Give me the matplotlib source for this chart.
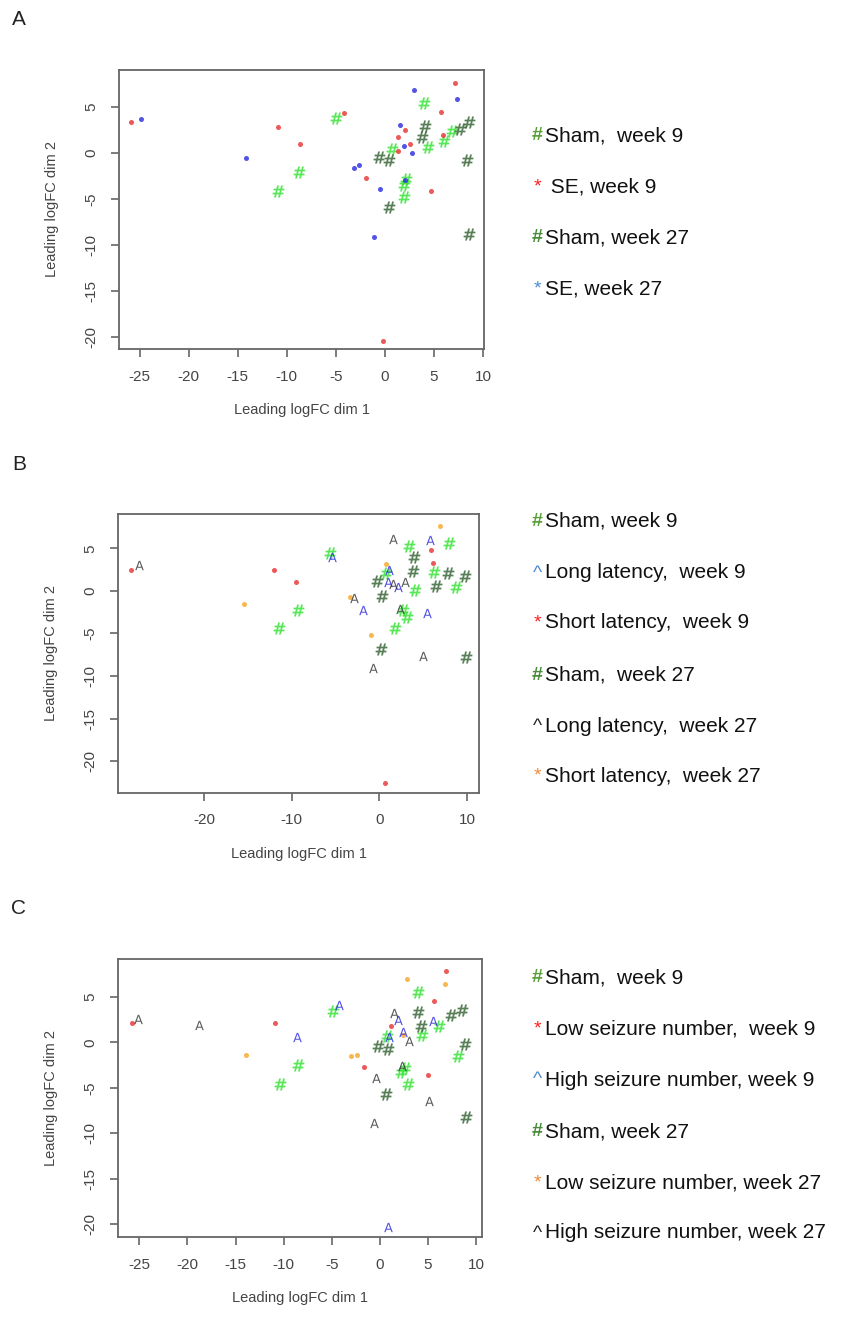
import matplotlib.pyplot as plt

plt.rcParams['font.family'] = ['Liberation Sans', 'DejaVu Sans']
plt.rcParams['axes.unicode_minus'] = False

# ---- panel A: SE vs sham ----
a_sham9_x = [-10.9, -8.8, -5.0, 0.7, 1.9, 1.9, 2.1, 4.0, 4.4, 6.0, 6.8]
a_sham9_y = [-4.1, -2.1, 3.8, 0.4, -3.5, -4.8, -2.8, 5.4, 0.6, 1.3, 2.4]
a_se9_x = [-25.9, -10.9, -8.7, -4.2, -1.9, -0.2, 1.3, 2.0, 1.3, 2.6, 4.7, 5.7, 5.9, 7.1]
a_se9_y = [3.4, 2.8, 1.0, 4.3, -2.7, -20.4, 1.7, 2.5, 0.2, 1.0, -4.1, 4.4, 1.9, 7.6]
a_sham27_x = [-0.6, 0.4, 0.4, 3.8, 4.1, 7.6, 8.6, 8.4, 8.6]
a_sham27_y = [-0.5, -0.8, -5.9, 1.7, 2.9, 2.6, 3.3, -0.8, -8.8]
a_se27_x = [-24.9, -14.2, -3.2, -2.6, -0.5, -1.1, 1.5, 1.9, 2.0, 2.8, 3.0, 7.3]
a_se27_y = [3.7, -0.6, -1.6, -1.3, -3.9, -9.1, 3.0, 0.7, -2.9, 0.0, 6.8, 5.8]

# ---- panel B: latency groups ----
b_sham9_x = [-5.6, -9.3, -11.4, 3.4, 8.0, 6.2, 4.1, 8.8, 0.8, 2.7, 3.1, 1.8]
b_sham9_y = [4.5, -2.2, -4.3, 5.3, 5.6, 2.2, 0.1, 0.5, 2.1, -2.2, -3.1, -4.3]
b_long9_x = [-5.4, 5.8, 1.1, 1.0, 2.1, -1.9, 5.4]
b_long9_y = [4.0, 6.0, 2.4, 1.0, 0.4, -2.3, -2.6]
b_short9_x = [-28.3, -12.0, -9.5, 0.7, 5.9, 6.1]
b_short9_y = [2.5, 2.5, 1.0, -22.6, 4.8, 3.3]
b_sham27_x = [3.9, 3.8, -0.3, 0.3, 0.2, 6.5, 7.8, 9.8, 9.9]
b_sham27_y = [4.0, 2.3, 1.2, -0.6, -6.8, 0.6, 2.1, 1.7, -7.8]
b_long27_x = [-27.4, 1.6, 1.5, 2.9, -2.9, 2.3, 5.0, -0.7]
b_long27_y = [3.0, 6.1, 0.8, 1.0, -0.8, -2.1, -7.6, -9.1]
b_short27_x = [6.9, 0.8, -15.4, -3.4, -1.0]
b_short27_y = [7.6, 3.2, -1.5, -0.7, -5.2]

# ---- panel C: seizure number groups ----
c_sham9_x = [-4.9, -8.5, -10.4, 4.0, 4.4, 6.2, 8.1, 0.7, 2.2, 2.6, 2.9]
c_sham9_y = [3.5, -2.5, -4.6, 5.6, 0.8, 1.8, -1.5, 0.7, -3.2, -2.8, -4.6]
c_low9_x = [-25.8, -10.9, -1.6, 1.2, 5.0, 5.6, 6.9]
c_low9_y = [2.2, 2.2, -2.7, 1.8, -3.6, 4.6, 7.9]
c_high9_x = [-4.2, -8.6, 1.9, 2.4, 1.0, 5.5, 0.9]
c_high9_y = [4.1, 0.6, 2.5, 1.2, 0.6, 2.4, -20.3]
c_sham27_x = [4.0, 4.3, -0.2, 0.9, 0.6, 7.4, 8.5, 8.9, 9.0]
c_sham27_y = [3.4, 1.8, -0.4, -0.7, -5.7, 3.0, 3.6, -0.2, -8.2]
c_low27_x = [2.8, 6.8, -13.9, -3.0, -2.4, 2.4]
c_low27_y = [7.0, 6.4, -1.4, -1.5, -1.4, 0.8]
c_high27_x = [-25.1, -18.8, 1.5, 3.0, -0.4, 2.3, 5.1, -0.6]
c_high27_y = [2.6, 1.9, 3.3, 0.2, -3.9, -2.6, -6.5, -8.9]

LIGHT = '#2fe02f'
DARK = '#2f5f2f'
RED = '#e8302f'
BLUE = '#2828e0'
ORANGE = '#f5a623'
BLACK = '#333333'

HASH = r'$\mathbf{\#}$'
STAR = 'o'
HAT = r'$\mathsf{A}$'
SIZES = {HASH: 75, STAR: 13, HAT: 45}

panels = [
    dict(letter='A', rect=[0.1412, 0.7356, 0.433, 0.2114],
         xlim=(-27.1, 10.1), ylim=(-21.3, 9.0), xticks=range(-25, 11, 5),
         groups=[(a_sham9_x, a_sham9_y, LIGHT, HASH),
                 (a_sham27_x, a_sham27_y, DARK, HASH),
                 (a_se9_x, a_se9_y, RED, STAR),
                 (a_se27_x, a_se27_y, BLUE, STAR)],
         legend=[('#', '#5aa03a', 'Sham,  week 9'),
                 ('*', '#ff2020', ' SE, week 9'),
                 ('#', '#4a8a3a', 'Sham, week 27'),
                 ('*', '#4a8ad0', 'SE, week 27')],
         leg_y=[136, 187, 238, 289]),
    dict(letter='B', rect=[0.1403, 0.3995, 0.4282, 0.2109],
         xlim=(-29.8, 11.4), ylim=(-23.7, 9.0), xticks=[-20, -10, 0, 10],
         groups=[(b_sham9_x, b_sham9_y, LIGHT, HASH),
                 (b_sham27_x, b_sham27_y, DARK, HASH),
                 (b_short9_x, b_short9_y, RED, STAR),
                 (b_short27_x, b_short27_y, ORANGE, STAR),
                 (b_long9_x, b_long9_y, BLUE, HAT),
                 (b_long27_x, b_long27_y, BLACK, HAT)],
         legend=[('#', '#5aa03a', 'Sham, week 9'),
                 ('^', '#4a8ad0', 'Long latency,  week 9'),
                 ('*', '#ff2020', 'Short latency,  week 9'),
                 ('#', '#4a8a3a', 'Sham,  week 27'),
                 ('^', '#222222', 'Long latency,  week 27'),
                 ('*', '#f08a3a', 'Short latency,  week 27')],
         leg_y=[521, 573, 623, 675, 726, 776]),
    dict(letter='C', rect=[0.1403, 0.0631, 0.4311, 0.2104],
         xlim=(-27.2, 10.6), ylim=(-21.4, 9.2), xticks=range(-25, 11, 5),
         groups=[(c_sham9_x, c_sham9_y, LIGHT, HASH),
                 (c_sham27_x, c_sham27_y, DARK, HASH),
                 (c_low9_x, c_low9_y, RED, STAR),
                 (c_low27_x, c_low27_y, ORANGE, STAR),
                 (c_high9_x, c_high9_y, BLUE, HAT),
                 (c_high27_x, c_high27_y, BLACK, HAT)],
         legend=[('#', '#5aa03a', 'Sham,  week 9'),
                 ('*', '#ff2020', 'Low seizure number,  week 9'),
                 ('^', '#4a8ad0', 'High seizure number, week 9'),
                 ('#', '#4a8a3a', 'Sham, week 27'),
                 ('*', '#f08a3a', 'Low seizure number, week 27'),
                 ('^', '#222222', 'High seizure number, week 27')],
         leg_y=[978, 1029, 1080, 1132, 1183, 1233]),
]

W, H = 843, 1320
fig = plt.figure(figsize=(W / 100, H / 100), dpi=100)

for p in panels:
    ax = fig.add_axes(p['rect'])
    for xs, ys, col, mk in p['groups']:
        ax.scatter(xs, ys, s=SIZES[mk], c=col, marker=mk, linewidths=0, alpha=0.8)
    ax.set_xlim(*p['xlim'])
    ax.set_ylim(*p['ylim'])
    ax.set_xticks(list(p['xticks']))
    ax.set_yticks(range(-20, 6, 5))
    for s in ax.spines.values():
        s.set_color('#666666')
        s.set_linewidth(1.3)
    ax.tick_params(direction='out', length=6, width=1.2, color='#666666',
                   labelsize=11, labelcolor='#444444', pad=9)
    for lab in ax.get_yticklabels():
        lab.set_rotation(90)
        lab.set_va('center')
    ax.set_xlabel('Leading logFC dim 1', fontsize=10.5, color='#444444', labelpad=14)
    ax.set_ylabel('Leading logFC dim 2', fontsize=10.5, color='#444444', labelpad=18)

    # panel letter, positioned above the axes
    top_px = H - (p['rect'][1] + p['rect'][3]) * H
    fig.text(19 / W, 1 - (top_px - 50) / H, p['letter'], fontsize=15,
             ha='center', va='center', color='#222222')

    # legend drawn as coloured symbol + black text
    for (sym, col, txt), yy in zip(p['legend'], p['leg_y']):
        fig.text(537 / W, 1 - yy / H, sym, color=col, fontsize=14,
                 ha='center', va='center', fontweight='bold' if sym == '#' else 'normal')
        fig.text(545 / W, 1 - yy / H, txt, color='#111111', fontsize=15,
                 ha='left', va='center')

fig.savefig('out.png', dpi=100)
